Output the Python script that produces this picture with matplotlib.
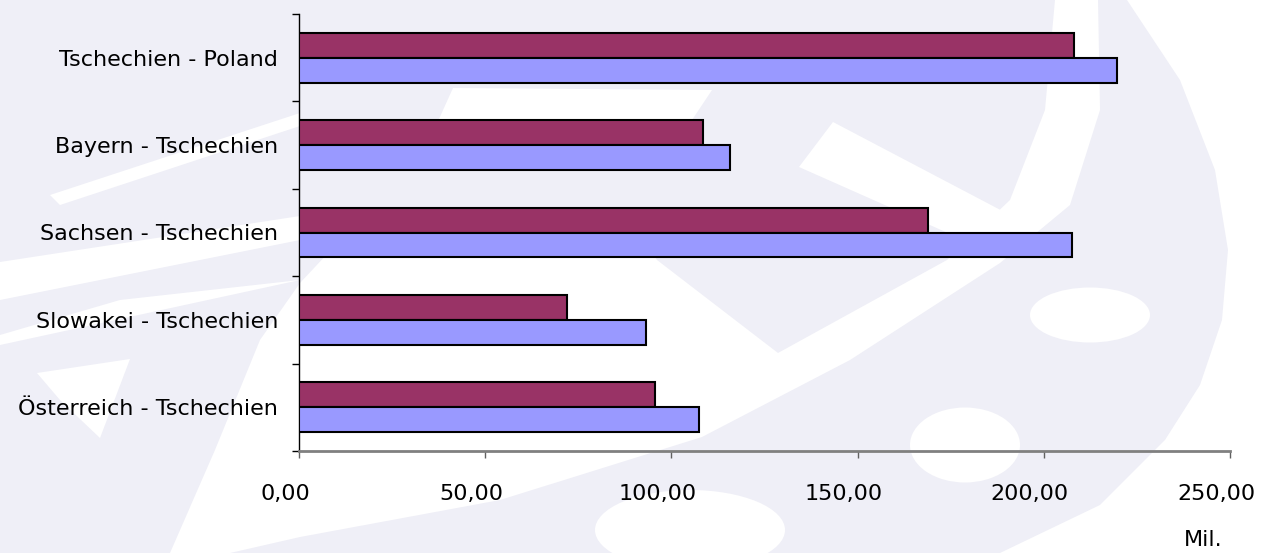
import numpy as np
import matplotlib
matplotlib.use("Agg")
import matplotlib.pyplot as plt
import matplotlib.transforms as mtrans
from matplotlib.path import Path
from matplotlib.patches import PathPatch, Ellipse
from matplotlib.ticker import FuncFormatter, FixedLocator

# Daten (von oben nach unten)
kategorien = ["Tschechien - Poland", "Bayern - Tschechien", "Sachsen - Tschechien",
              "Slowakei - Tschechien", "Österreich - Tschechien"]
serie_dunkel = [208.1, 108.5, 168.9, 72.0, 95.6]
serie_hell = [219.7, 115.7, 207.6, 93.2, 107.4]
x_ticks = [0, 50, 100, 150, 200, 250]

plt.rcParams['font.family'] = ['DejaVu Sans']

W, H = 1261, 553
fig = plt.figure(figsize=(W / 100, H / 100), dpi=100)
fig.patch.set_facecolor('#EFEFF7')


# Wasserzeichen im Hintergrund, grob (Pixel, y von oben)
def fxy(x, y):
    return (x / W, 1 - y / H)


def white_poly(pts):
    verts = [fxy(x, y) for x, y in pts] + [fxy(*pts[0])]
    codes = [Path.MOVETO] + [Path.LINETO] * (len(pts) - 1) + [Path.CLOSEPOLY]
    fig.patches.append(PathPatch(Path(verts, codes), transform=fig.transFigure,
                                 facecolor='white', edgecolor='none', zorder=-1))


def white_leaf(cx, cy, w, h):
    e = Ellipse(fxy(cx, cy), w / W, h / H, transform=fig.transFigure,
                facecolor='white', edgecolor='none', zorder=-1)
    fig.patches.append(e)


# rechts ausserhalb des Kreises
white_poly([(1127, 0), (1180, 80), (1215, 170), (1228, 250), (1222, 320), (1200, 385),
            (1165, 440), (1100, 505), (1000, 553), (1261, 553), (1261, 0)])
# grosser Bogen unten + C-Band rechts oben
white_poly([(170, 553), (215, 450), (260, 340), (300, 283), (345, 235), (640, 235),
            (657, 260), (778, 353), (947, 260), (1010, 200), (1045, 110), (1055, 0),
            (1098, 0), (1100, 110), (1070, 205), (1000, 263), (850, 360), (702, 437),
            (500, 500), (300, 537), (230, 553)])
# Arm
white_poly([(799, 167), (833, 122), (1010, 215), (975, 245)])
# Streifen Mitte oben
white_poly([(425, 150), (453, 88), (712, 90), (672, 150)])
# Streifen links
white_poly([(50, 195), (300, 113), (300, 126), (60, 205)])
white_poly([(0, 262), (300, 216), (300, 240), (0, 300)])
white_poly([(0, 335), (120, 300), (300, 280), (0, 345)])
white_poly([(37, 373), (130, 359), (100, 438), (60, 400)])
# Blaetter
white_leaf(1090, 315, 120, 55)
white_leaf(965, 445, 110, 75)
white_leaf(690, 530, 190, 80)

ax = fig.add_axes([299 / W, 1 - 451 / H, (1230 - 299) / W, (451 - 14) / H])
ax.set_facecolor('none')
ax.set_zorder(1)

n = len(kategorien)
y = np.arange(n)[::-1]
h = 0.286
ax.barh(y + h / 2, serie_dunkel, height=h, color='#993366', edgecolor='black', lw=1.5, zorder=3)
ax.barh(y - h / 2, serie_hell, height=h, color='#9999FF', edgecolor='black', lw=1.5, zorder=3)

ax.set_xlim(0, 250)
ax.set_ylim(-0.5, n - 0.5)

ax.set_yticks(y)
ax.set_yticklabels(kategorien, fontsize=16)
ax.tick_params(axis='y', which='major', length=0, pad=15)
ax.yaxis.set_minor_locator(FixedLocator(np.arange(-0.5, n, 1.0)))
ax.tick_params(axis='y', which='minor', length=5, width=1, color='black', direction='out')

ax.set_xticks(x_ticks)
ax.xaxis.set_major_formatter(FuncFormatter(lambda v, p: f"{v:.2f}".replace('.', ',')))
ax.tick_params(axis='x', length=5, width=1, color='#606060', labelsize=16, pad=19)
# Beschriftungen leicht nach links versetzt wie im Original
shift = mtrans.ScaledTranslation(-14 / 100, 0, fig.dpi_scale_trans)
for lab in ax.get_xticklabels():
    lab.set_transform(lab.get_transform() + shift)

for s in ['top', 'right']:
    ax.spines[s].set_visible(False)
ax.spines['left'].set_color('black')
ax.spines['left'].set_linewidth(1)
ax.spines['bottom'].set_color('#808080')
ax.spines['bottom'].set_linewidth(2)

fig.text(1203 / W, 1 - 540 / H, "Mil.", fontsize=16, ha='center', va='center', zorder=2)

fig.savefig("out.png", dpi=100, facecolor=fig.get_facecolor())
